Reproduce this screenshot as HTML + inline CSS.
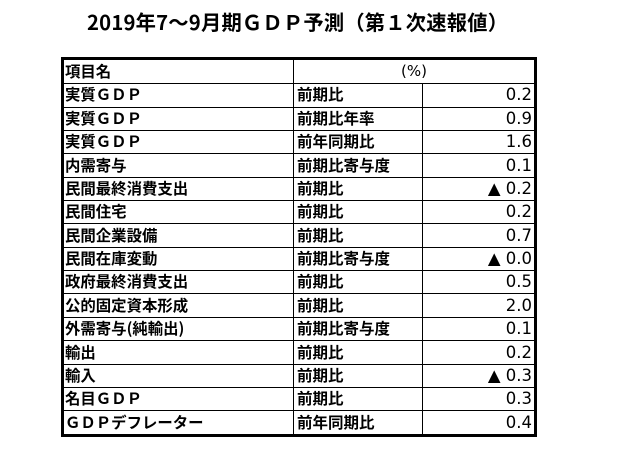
<!DOCTYPE html>
<html>
<head>
<meta charset="utf-8">
<style>
  html, body { margin:0; padding:0; background:#fff; }
  body { width:618px; height:451px; position:relative; overflow:hidden;
         font-family:"Liberation Sans","Noto Sans CJK JP",sans-serif; color:#000; }
  .title { position:absolute; left:87px; top:7px; font-size:20.3px; font-weight:bold;
           line-height:28px; white-space:nowrap; letter-spacing:0.2px;
           font-family:"Noto Sans CJK JP","Liberation Sans",sans-serif; }
  .box { position:absolute; left:61px; top:57px; width:476px; height:380px;
         border:3px solid #000; box-sizing:border-box; }
  .hl { position:absolute; left:64px; width:470px; height:1px; background:#000; }
  .vl { position:absolute; width:1px; background:#000; }
  .c1, .c2, .c3 { position:absolute; height:23.375px; line-height:23.375px; white-space:nowrap; }
  .c1 { left:65px; font-size:15.4px; font-weight:bold;
        font-family:"Noto Sans CJK JP","Liberation Sans",sans-serif; }
  .c2 { left:297px; font-size:15.5px; font-weight:bold;
        font-family:"Noto Sans CJK JP","Liberation Sans",sans-serif; }
  .c3 { right:86px; font-size:16.5px; text-align:right;
        font-family:"DejaVu Sans","Liberation Sans",sans-serif; }
  .pct { position:absolute; left:294px; width:240px; top:60px; height:23.375px;
         line-height:23.375px; text-align:center; font-size:15px;
         font-family:"DejaVu Sans","Liberation Sans",sans-serif; }
</style>
</head>
<body>
<div class="title">2019年7～9月期ＧＤＰ予測（第１次速報値）</div>

<div class="box"></div>

<!-- horizontal lines -->
<div class="hl" style="top:83px"></div>
<div class="hl" style="top:106.5px"></div>
<div class="hl" style="top:130px"></div>
<div class="hl" style="top:153px"></div>
<div class="hl" style="top:176.5px"></div>
<div class="hl" style="top:200px"></div>
<div class="hl" style="top:223px"></div>
<div class="hl" style="top:246.5px"></div>
<div class="hl" style="top:270px"></div>
<div class="hl" style="top:293px"></div>
<div class="hl" style="top:317px"></div>
<div class="hl" style="top:340px"></div>
<div class="hl" style="top:363.5px"></div>
<div class="hl" style="top:387px"></div>
<div class="hl" style="top:410px"></div>

<!-- vertical lines -->
<div class="vl" style="left:293px; top:60px; height:374px;"></div>
<div class="vl" style="left:422px; top:83px; height:351px;"></div>

<!-- header -->
<div class="c1" style="top:60px">項目名</div>
<div class="pct">(%)</div>

<div class="c1" style="top:83.375px">実質ＧＤＰ</div>
<div class="c2" style="top:83.375px">前期比</div>
<div class="c3" style="top:83.375px">0.2</div>

<div class="c1" style="top:106.75px">実質ＧＤＰ</div>
<div class="c2" style="top:106.75px">前期比年率</div>
<div class="c3" style="top:106.75px">0.9</div>

<div class="c1" style="top:130.125px">実質ＧＤＰ</div>
<div class="c2" style="top:130.125px">前年同期比</div>
<div class="c3" style="top:130.125px">1.6</div>

<div class="c1" style="top:153.5px">内需寄与</div>
<div class="c2" style="top:153.5px">前期比寄与度</div>
<div class="c3" style="top:153.5px">0.1</div>

<div class="c1" style="top:176.875px">民間最終消費支出</div>
<div class="c2" style="top:176.875px">前期比</div>
<div class="c3" style="top:176.875px">▲ 0.2</div>

<div class="c1" style="top:200.25px">民間住宅</div>
<div class="c2" style="top:200.25px">前期比</div>
<div class="c3" style="top:200.25px">0.2</div>

<div class="c1" style="top:223.625px">民間企業設備</div>
<div class="c2" style="top:223.625px">前期比</div>
<div class="c3" style="top:223.625px">0.7</div>

<div class="c1" style="top:247px">民間在庫変動</div>
<div class="c2" style="top:247px">前期比寄与度</div>
<div class="c3" style="top:247px">▲ 0.0</div>

<div class="c1" style="top:270.375px">政府最終消費支出</div>
<div class="c2" style="top:270.375px">前期比</div>
<div class="c3" style="top:270.375px">0.5</div>

<div class="c1" style="top:293.75px">公的固定資本形成</div>
<div class="c2" style="top:293.75px">前期比</div>
<div class="c3" style="top:293.75px">2.0</div>

<div class="c1" style="top:317.125px">外需寄与(純輸出)</div>
<div class="c2" style="top:317.125px">前期比寄与度</div>
<div class="c3" style="top:317.125px">0.1</div>

<div class="c1" style="top:340.5px">輸出</div>
<div class="c2" style="top:340.5px">前期比</div>
<div class="c3" style="top:340.5px">0.2</div>

<div class="c1" style="top:363.875px">輸入</div>
<div class="c2" style="top:363.875px">前期比</div>
<div class="c3" style="top:363.875px">▲ 0.3</div>

<div class="c1" style="top:387.25px">名目ＧＤＰ</div>
<div class="c2" style="top:387.25px">前期比</div>
<div class="c3" style="top:387.25px">0.3</div>

<div class="c1" style="top:410.625px">ＧＤＰデフレーター</div>
<div class="c2" style="top:410.625px">前年同期比</div>
<div class="c3" style="top:410.625px">0.4</div>
</body>
</html>
